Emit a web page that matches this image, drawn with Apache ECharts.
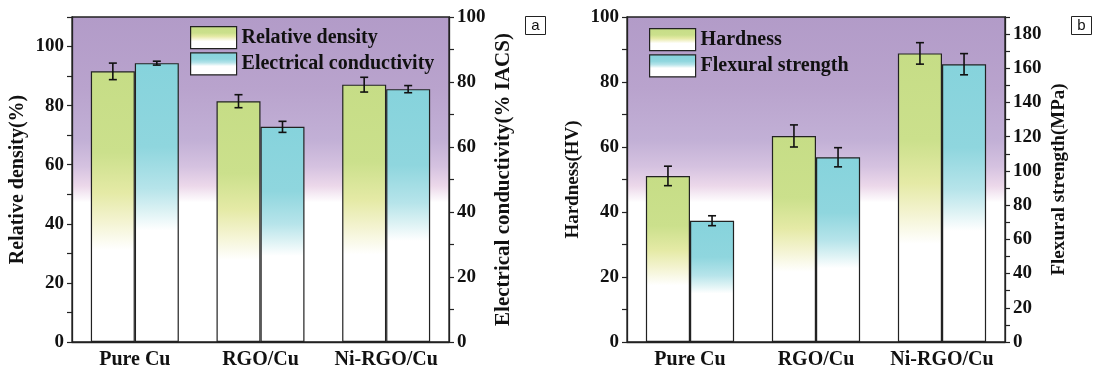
<!DOCTYPE html>
<html>
<head>
<meta charset="utf-8">
<script src="https://cdn.jsdelivr.net/npm/echarts@6/dist/echarts.min.js"></script>
<style>
  html, body { margin: 0; padding: 0; background: #fff; }
  #main { width: 1093px; height: 370px; }
</style>
</head>
<body>
<div id="main"></div>
<script>
var categories = ["Pure Cu", "RGO/Cu", "Ni-RGO/Cu"];

// panel a
var relDensity = [91.6, 81.5, 87.1];
var relDensityErr = [2.8, 2.2, 2.5];
var conductivity = [85.8, 66.2, 77.8];
var conductivityErr = [0.6, 1.7, 1.1];

// panel b
var hardness = [51.1, 63.4, 88.8];
var hardnessErr = [3.0, 3.4, 3.3];
var flexural = [70.9, 108.0, 162.4];
var flexuralErr = [2.9, 5.6, 6.2];

var FONT = "'Liberation Serif', 'Times New Roman', serif";
var INK = "#111";

function grad(stops) {
    return new echarts.graphic.LinearGradient(0, 0, 0, 1, stops);
}
var greenFill = function () {
    return grad([
        { offset: 0, color: "#c6dd86" },
        { offset: 0.3, color: "#cbe08c" },
        { offset: 0.45, color: "#e5eaa6" },
        { offset: 0.55, color: "#f3f3cf" },
        { offset: 0.66, color: "#ffffff" },
        { offset: 1, color: "#ffffff" }
    ]);
};
var cyanFill = function () {
    return grad([
        { offset: 0, color: "#86d3dc" },
        { offset: 0.3, color: "#8fd6de" },
        { offset: 0.45, color: "#b6e4ea" },
        { offset: 0.53, color: "#dcf2f4" },
        { offset: 0.6, color: "#ffffff" },
        { offset: 1, color: "#ffffff" }
    ]);
};
var bgFill = function () {
    return grad([
        { offset: 0, color: "#b29bc8" },
        { offset: 0.22, color: "#b9a3cd" },
        { offset: 0.38, color: "#c2b0d6" },
        { offset: 0.46, color: "#d5c2e0" },
        { offset: 0.52, color: "#ecd8ea" },
        { offset: 0.57, color: "#ffffff" },
        { offset: 1, color: "#ffffff" }
    ]);
};

function gridBox(left, right) {
    return {
        left: left, right: right, top: 17, bottom: 28,
        show: true,
        backgroundColor: bgFill(),
        borderColor: "#222",
        borderWidth: 1.3
    };
}

function catAxes(gi) {
    return [{
        type: "category", gridIndex: gi, data: categories,
        axisLine: { lineStyle: { color: "#222", width: 1.3 } },
        axisTick: { alignWithLabel: true, length: 5, lineStyle: { color: "#222", width: 1.2 } },
        axisLabel: { interval: 0, color: INK, fontFamily: FONT, fontWeight: "bold", fontSize: 20, margin: 8 }
    }, {
        // boundary ticks between categories
        type: "category", gridIndex: gi, data: categories,
        axisLine: { show: false },
        axisTick: { interval: 0, length: 3, lineStyle: { color: "#222", width: 1.2 } },
        axisLabel: { show: false }
    }];
}

function valAxis(gi, pos, max, name, labelMax, nameSize, nameGap) {
    return {
        type: "value", gridIndex: gi, position: pos,
        min: 0, max: max, interval: 10,
        name: name, nameLocation: "middle", nameRotate: 90, nameGap: nameGap,
        nameTextStyle: { color: INK, fontFamily: FONT, fontWeight: "bold", fontSize: nameSize },
        axisLine: { show: true, lineStyle: { color: "#222", width: 1.3 } },
        axisTick: { show: true, length: 5, lineStyle: { color: "#222", width: 1.2 } },
        splitLine: { show: false },
        axisLabel: {
            color: INK, fontFamily: FONT, fontWeight: "bold", fontSize: 19, margin: 8,
            formatter: function (v) {
                return (v % 20 === 0 && v <= labelMax) ? String(v) : "";
            }
        }
    };
}

function barSeries(name, data, gi, yi, fill) {
    return {
        type: "bar", name: name, data: data,
        xAxisIndex: gi * 2, yAxisIndex: gi * 2 + yi,
        barWidth: "35%", barGap: "0%",
        itemStyle: { color: fill, borderColor: "#222", borderWidth: 1.2 },
        emphasis: { disabled: true }
    };
}

function errSeries(vals, errs, gi, yi, side) {
    var data = [];
    for (var i = 0; i < vals.length; ++i) {
        data.push([i, vals[i] - errs[i], vals[i] + errs[i]]);
    }
    return {
        type: "custom", data: data, z: 10,
        xAxisIndex: gi * 2, yAxisIndex: gi * 2 + yi,
        silent: true,
        renderItem: function (params, api) {
            var hi = api.coord([api.value(0), api.value(2)]);
            var lo = api.coord([api.value(0), api.value(1)]);
            var x = hi[0] + side * api.size([1, 0])[0] * 0.175;
            var cap = 4;
            var st = { stroke: "#111", lineWidth: 1.6 };
            return {
                type: "group",
                children: [
                    { type: "line", shape: { x1: x, y1: hi[1], x2: x, y2: lo[1] }, style: st },
                    { type: "line", shape: { x1: x - cap, y1: hi[1], x2: x + cap, y2: hi[1] }, style: st },
                    { type: "line", shape: { x1: x - cap, y1: lo[1], x2: x + cap, y2: lo[1] }, style: st }
                ]
            };
        }
    };
}

function legendAt(left, top, names) {
    return {
        left: left, top: top, orient: "vertical", padding: 0,
        data: names, icon: "rect",
        itemWidth: 46, itemHeight: 22, itemGap: 3,
        selectedMode: false,
        itemStyle: { borderColor: "#222", borderWidth: 1.2 },
        textStyle: { color: INK, fontFamily: FONT, fontWeight: "bold", fontSize: 20 }
    };
}

function tagBox(left, text) {
    return {
        type: "group", left: left, top: 16,
        children: [
            { type: "rect", shape: { x: 0, y: 0, width: 20, height: 18 },
              style: { fill: "#fff", stroke: "#222", lineWidth: 1 } },
            { type: "text", x: 10, y: 9,
              style: { text: text, fill: INK, font: "15px 'Liberation Sans', Arial, sans-serif",
                       align: "center", verticalAlign: "middle" } }
        ]
    };
}

var xA = catAxes(0), xB = catAxes(1);

var option = {
    animation: false,
    backgroundColor: "#fff",
    grid: [gridBox(72, 644), gridBox(627, 88)],
    xAxis: [xA[0], xA[1], xB[0], xB[1]],
    yAxis: [
        valAxis(0, "left", 110, "Relative density(%)", 100, 20, 44),
        valAxis(0, "right", 100, "Electrical conductivity(% IACS)", 100, 21, 44),
        valAxis(1, "left", 100, "Hardness(HV)", 100, 19, 44),
        valAxis(1, "right", 190, "Flexural strength(MPa)", 180, 19, 45)
    ],
    legend: [
        legendAt(190, 26, ["Relative density", "Electrical conductivity"]),
        legendAt(649, 28, ["Hardness", "Flexural strength"])
    ],
    graphic: [tagBox(525, "a"), tagBox(1071, "b")],
    series: [
        barSeries("Relative density", relDensity, 0, 0, greenFill()),
        barSeries("Electrical conductivity", conductivity, 0, 1, cyanFill()),
        errSeries(relDensity, relDensityErr, 0, 0, -1),
        errSeries(conductivity, conductivityErr, 0, 1, 1),
        barSeries("Hardness", hardness, 1, 0, greenFill()),
        barSeries("Flexural strength", flexural, 1, 1, cyanFill()),
        errSeries(hardness, hardnessErr, 1, 0, -1),
        errSeries(flexural, flexuralErr, 1, 1, 1)
    ]
};

echarts.init(document.getElementById("main")).setOption(option);
</script>
</body>
</html>
